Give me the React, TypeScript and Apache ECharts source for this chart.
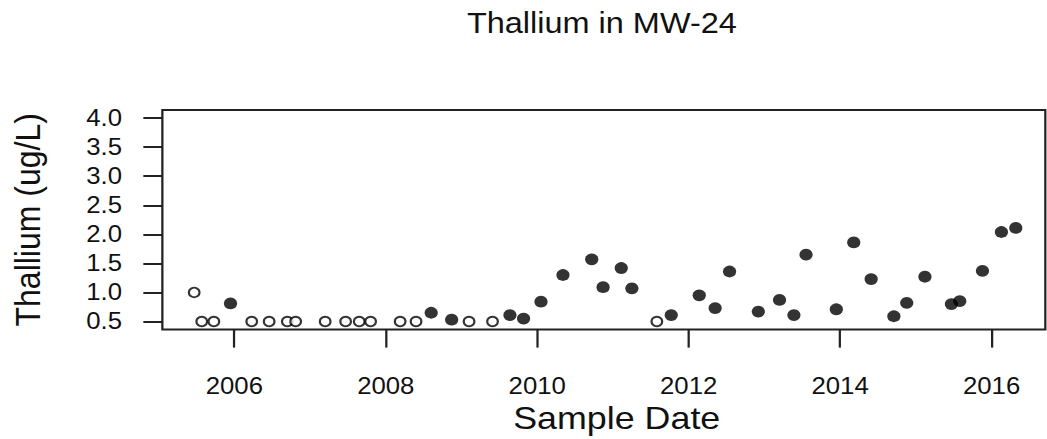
import React, { useEffect, useRef } from "react";
import * as echarts from "echarts";

// Sample dates as decimal years
const sampleDates = [
  2005.47, 2005.57, 2005.73, 2005.95, 2006.23, 2006.46, 2006.7, 2006.81,
  2007.2, 2007.47, 2007.65, 2007.8, 2008.19, 2008.4, 2008.6, 2008.87,
  2009.1, 2009.41, 2009.64, 2009.82, 2010.05, 2010.34, 2010.72, 2010.87,
  2011.11, 2011.25, 2011.58, 2011.77, 2012.14, 2012.35, 2012.54, 2012.92,
  2013.2, 2013.39, 2013.55, 2013.95, 2014.18, 2014.41, 2014.71, 2014.88,
  2015.12, 2015.47, 2015.58, 2015.88, 2016.13, 2016.32,
];
// Thallium concentrations (ug/L)
const thallium = [
  1.0, 0.5, 0.5, 0.81, 0.5, 0.5, 0.5, 0.5,
  0.5, 0.5, 0.5, 0.5, 0.5, 0.5, 0.65, 0.53,
  0.5, 0.5, 0.61, 0.55, 0.84, 1.3, 1.57, 1.09,
  1.42, 1.07, 0.5, 0.61, 0.95, 0.73, 1.36, 0.67,
  0.87, 0.61, 1.65, 0.71, 1.86, 1.23, 0.59, 0.82,
  1.27, 0.8, 0.85, 1.37, 2.04, 2.11,
];
// 1 = detected (filled), 0 = non-detect (open)
const detected = [
  0, 0, 0, 1, 0, 0, 0, 0,
  0, 0, 0, 0, 0, 0, 1, 1,
  0, 0, 1, 1, 1, 1, 1, 1,
  1, 1, 0, 1, 1, 1, 1, 1,
  1, 1, 1, 1, 1, 1, 1, 1,
  1, 1, 1, 1, 1, 1,
];
const yTicks = [0.5, 1.0, 1.5, 2.0, 2.5, 3.0, 3.5, 4.0];
const xTicks = [2006, 2008, 2010, 2012, 2014, 2016];

const W = 935;
const H = 439;
const STRETCH = 1047 / W;
const FONT = "'Liberation Sans', Arial, sans-serif";

export default function App() {
  const ref = useRef<HTMLDivElement>(null);

  useEffect(() => {
    if (!ref.current) return;
    const chart = echarts.init(ref.current, null, { renderer: "svg" });
    const det: number[][] = [];
    const nd: number[][] = [];
    sampleDates.forEach((d, i) => {
      (detected[i] ? det : nd).push([d, thallium[i]]);
    });
    chart.setOption({
      animation: false,
      backgroundColor: "#ffffff",
      title: {
        text: "Thallium in MW-24",
        left: 417,
        top: 9,
        padding: 0,
        textStyle: {
          fontFamily: FONT,
          fontSize: 29,
          fontWeight: "normal",
          color: "#111",
          lineHeight: 29,
        },
      },
      grid: {
        left: 142.4,
        right: 1.5,
        top: 110,
        bottom: 108.5,
        show: true,
        borderColor: "#222",
        borderWidth: 2,
        backgroundColor: "transparent",
      },
      xAxis: {
        type: "value",
        min: 2005.05,
        max: 2016.71,
        name: "Sample Date",
        nameLocation: "middle",
        nameGap: 70,
        nameTextStyle: {
          fontFamily: FONT,
          fontSize: 32,
          color: "#111",
          lineHeight: 32,
          padding: [0, 0, 0, 23],
        },
        axisLine: { show: false },
        axisTick: {
          show: true,
          inside: false,
          length: 18,
          customValues: xTicks,
          lineStyle: { color: "#222", width: 2 },
        },
        axisLabel: {
          customValues: xTicks,
          margin: 44.5,
          fontFamily: FONT,
          fontSize: 23,
          lineHeight: 23,
          color: "#111",
          formatter: (v: number) => String(Math.round(v)),
        },
        splitLine: { show: false },
      },
      yAxis: {
        type: "value",
        min: 0.36,
        max: 4.14,
        name: "Thallium (ug/L)",
        nameLocation: "middle",
        nameGap: 105,
        nameTextStyle: {
          fontFamily: FONT,
          fontSize: 32,
          color: "#111",
          lineHeight: 32,
        },
        axisLine: { show: false },
        axisTick: {
          show: true,
          inside: false,
          length: 17,
          customValues: yTicks,
          lineStyle: { color: "#222", width: 2 },
        },
        axisLabel: {
          customValues: yTicks,
          margin: 36,
          fontFamily: FONT,
          fontSize: 23,
          lineHeight: 23,
          color: "#111",
          formatter: (v: number) => v.toFixed(1),
        },
        splitLine: { show: false },
      },
      series: [
        {
          name: "Non-detect",
          type: "scatter",
          data: nd,
          symbol: "circle",
          symbolSize: 9.5,
          itemStyle: { color: "#ffffff", borderColor: "#000", borderWidth: 1.9 },
          emphasis: { disabled: true },
        },
        {
          name: "Detected",
          type: "scatter",
          data: det,
          symbol: "circle",
          symbolSize: 11.8,
          itemStyle: { color: "#000000" },
          emphasis: { disabled: true },
        },
      ],
    });
    return () => chart.dispose();
  }, []);

  return (
    <div style={{ position: "fixed", left: 0, top: 0, width: 1047, height: H, overflow: "hidden", background: "#fff" }}>
      <div
        ref={ref}
        style={{
          width: W,
          height: H,
          transform: `scaleX(${STRETCH})`,
          transformOrigin: "0 0",
        }}
      />
    </div>
  );
}
